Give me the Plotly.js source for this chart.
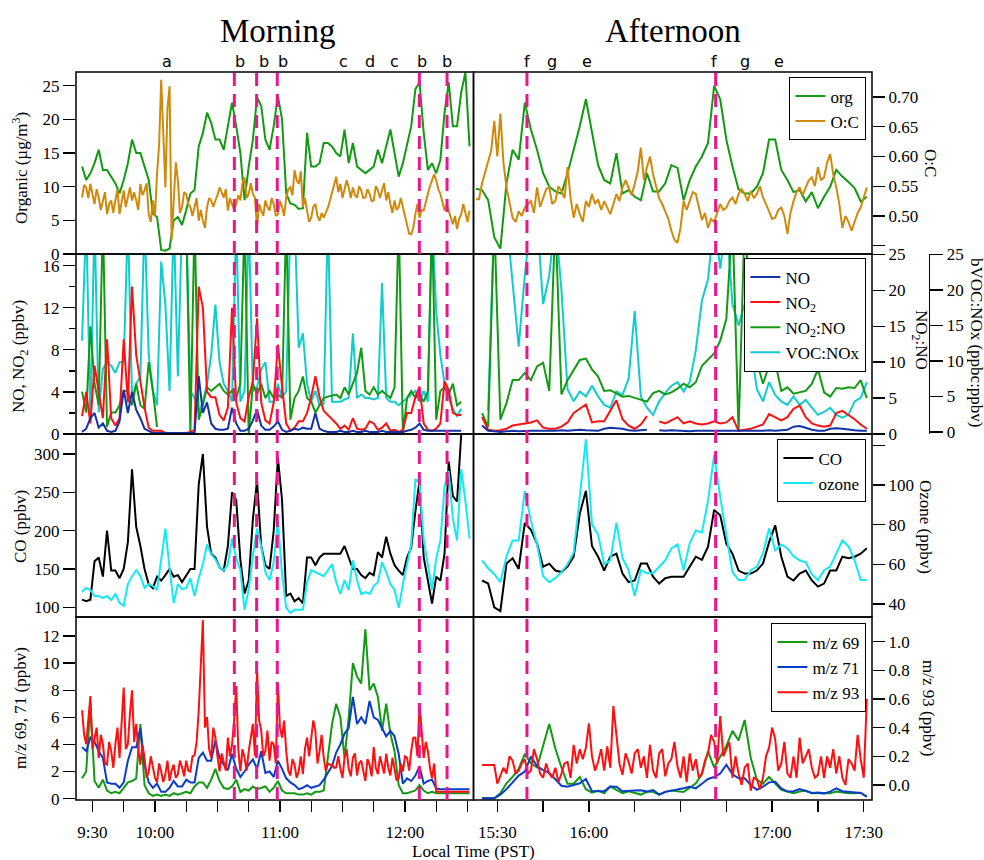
<!DOCTYPE html>
<html><head><meta charset="utf-8">
<script src="https://cdn.plot.ly/plotly-3.0.1.min.js"></script>
<style>html,body{margin:0;padding:0;background:#fff}</style>
</head><body><div id="chart" style="width:984px;height:860px"></div>
<script>
// ---------- DATA (time in minutes after midnight, PST) ----------
const timeAM = [565,567,569,571,573,575,577,579,581,583,585,587,589,591,593,595,597,599,601,603,605,607,609,611,613,615,617,619,621,623,625,627,629,631,633,635,637,639,641,643,645,647,649,651,653,655,657,659,661,663,665,667,669,671,673,675,677,679,681,683,685,687,689,691,693,695,697,699,701,703,705,707,709,711,713,715,717,719,721,723,725,727,729,731,733,735,737,739,741,743,745,747,749,751];
const timePM = [923,925,927,929,931,933,935,937,939,941,943,945,947,949,951,953,955,957,959,961,963,965,967,969,971,973,975,977,979,981,983,985,987,989,991,993,995,997,999,1001,1003,1005,1007,1009,1011,1013,1015,1017,1019,1021,1023,1025,1027,1029,1031,1033,1035,1037,1039,1041,1043,1045,1047,1049,1051];
// one-minute time bases for the noisier series (O:C, m/z 93)
const timeAM1 = [565,566,567,568,569,570,571,572,573,574,575,576,577,578,579,580,581,582,583,584,585,586,587,588,589,590,591,592,593,594,595,596,597,598,599,600,601,602,603,604,605,606,607,608,609,610,611,612,613,614,615,616,617,618,619,620,621,622,623,624,625,626,627,628,629,630,631,632,633,634,635,636,637,638,639,640,641,642,643,644,645,646,647,648,649,650,651,652,653,654,655,656,657,658,659,660,661,662,663,664,665,666,667,668,669,670,671,672,673,674,675,676,677,678,679,680,681,682,683,684,685,686,687,688,689,690,691,692,693,694,695,696,697,698,699,700,701,702,703,704,705,706,707,708,709,710,711,712,713,714,715,716,717,718,719,720,721,722,723,724,725,726,727,728,729,730,731,732,733,734,735,736,737,738,739,740,741,742,743,744,745,746,747,748,749,750,751];
const timePM1 = [923,924,925,926,927,928,929,930,931,932,933,934,935,936,937,938,939,940,941,942,943,944,945,946,947,948,949,950,951,952,953,954,955,956,957,958,959,960,961,962,963,964,965,966,967,968,969,970,971,972,973,974,975,976,977,978,979,980,981,982,983,984,985,986,987,988,989,990,991,992,993,994,995,996,997,998,999,1000,1001,1002,1003,1004,1005,1006,1007,1008,1009,1010,1011,1012,1013,1014,1015,1016,1017,1018,1019,1020,1021,1022,1023,1024,1025,1026,1027,1028,1029,1030,1031,1032,1033,1034,1035,1036,1037,1038,1039,1040,1041,1042,1043,1044,1045,1046,1047,1048,1049,1050,1051];

// Row 1: organic aerosol (ug/m3) and O:C
const orgAM = [13,11,12,13.5,15.5,12.5,12.5,11.5,10.5,9,11,13.5,17,15,15,13,11,6,5.5,0.6,0.5,0.8,5,5.5,4.3,6.5,9,9.5,16,18,21,19.5,17,17,15.5,19,22.5,19,15,8,13,17,23.3,22,17,15.5,19,23.5,20,9,7.5,7.3,6.7,6.8,18,13,13,13.5,16.5,16.5,16,15,14.5,18.5,13.5,16.5,13,12.5,12,12.5,13,15.5,13.5,16,18.5,15,11.5,13.5,16.5,19,24.5,25.5,18,12.5,13.5,12,14,21,25.5,19,19,24,27,16];
const ocAM = [.531,.552,.548,.530,.554,.535,.520,.545,.531,.510,.526,.540,.503,.520,.526,.505,.526,.545,.503,.525,.543,.515,.531,.548,.526,.540,.526,.510,.554,.535,.543,.555,.503,.490,.526,.500,.571,.620,.729,.640,.548,.680,.718,.460,.537,.590,.560,.505,.515,.540,.537,.520,.515,.500,.515,.530,.492,.510,.492,.480,.515,.530,.526,.515,.526,.535,.548,.540,.531,.545,.509,.530,.520,.510,.520,.535,.526,.555,.565,.530,.537,.555,.537,.530,.480,.520,.509,.500,.526,.515,.509,.530,.520,.500,.503,.525,.515,.500,.531,.545,.548,.535,.577,.560,.554,.575,.515,.530,.509,.490,.497,.515,.520,.500,.492,.505,.497,.505,.514,.526,.538,.552,.566,.540,.554,.530,.548,.560,.548,.530,.548,.535,.531,.550,.543,.530,.531,.545,.537,.525,.526,.550,.543,.530,.543,.555,.526,.540,.520,.505,.526,.510,.515,.530,.515,.500,.486,.470,.469,.480,.503,.520,.497,.510,.509,.525,.537,.550,.560,.570,.560,.545,.537,.520,.509,.520,.509,.495,.486,.500,.478,.495,.503,.520,.503,.490,.509];
const orgPM = [9.7,9.5,8,2.5,0.8,10.5,15.5,14,22.5,18.5,15.5,12,10,9.3,9,12,15.5,19,23,18,13.2,11,10.5,15,9,9.5,8.5,8,12,9.3,9.3,10.5,13.2,12.8,8,11,13,14.5,16.5,25,23,17,13,9.6,9,9,10,12,17,17,12.5,11,9.2,9.5,7.8,9.2,6.8,8.5,10,12.5,11.5,10.7,9.8,7.8,8.5];
const ocPM = [.528,.528,.555,.575,.593,.610,.66,.600,.672,.590,.548,.520,.497,.490,.508,.500,.514,.520,.525,.505,.548,.515,.531,.545,.548,.520,.525,.550,.542,.530,.582,.530,.497,.520,.503,.490,.525,.515,.537,.520,.528,.510,.525,.515,.503,.520,.537,.525,.548,.560,.548,.535,.554,.575,.615,.560,.582,.600,.570,.550,.53,.520,.508,.495,.475,.460,.455,.480,.525,.510,.525,.540,.537,.515,.493,.505,.48,.495,.49,.505,.52,.510,.514,.525,.531,.520,.537,.545,.537,.525,.542,.530,.537,.550,.531,.520,.508,.495,.497,.510,.514,.500,.47,.505,.525,.540,.548,.535,.548,.560,.565,.550,.582,.560,.565,.590,.604,.570,.548,.520,.48,.500,.49,.475,.49,.505,.514,.530,.548];

// Row 2: NO, NO2 (ppbv), NO2:NO, bVOC:NOx
const noAM = [0.2,0.5,1.5,2,0.6,1,0.3,0.2,0.3,1.2,4.2,2,4,2.3,1.5,0.5,0.3,0.1,0.1,0.1,0.1,0.1,0.1,0.1,0.1,0.1,0.1,0.1,5.5,2,3,1,0.5,0.4,0.4,0.5,2.5,1,0.3,0.3,0.5,1.3,2.3,0.8,0.4,0.4,0.7,1.2,0.4,0.2,0.3,0.5,0.4,0.6,0.5,0.5,2,0.5,0.3,0.2,0.2,0.2,0.3,0.2,0.2,0.3,0.2,0.2,0.3,0.2,0.2,0.2,0.3,0.2,0.2,0.2,0.2,0.2,0.3,0.4,0.6,1,0.4,0.3,0.3,0.3,0.3,0.3,0.3,0.3,0.3,0.3,null,null];
const no2AM = [1.7,4,1,6.5,4,1.5,9,1.5,0.8,1.5,9,3,14,7.5,5,2.5,0.6,0.3,0.3,0.3,0.1,0.1,0.1,0.1,0.1,0.1,0.2,0.4,14,12,4,3.5,3.5,1.8,1.3,2.5,12,3,1.5,1.2,3.5,5,11,3,1.3,1,3,8.5,4.5,1,0.3,0.6,1.2,1.2,2,3.5,5.5,3.5,2.2,1.8,1.4,1,0.5,0.8,0.4,1.5,0.5,0.4,0.5,1.2,1,0.4,0.6,1,0.3,0.4,0.2,0.4,2,2,3.5,4.5,1,0.4,0.3,0.5,1,5,4.2,2,1.8,1.8,null,null];
const ratioAM = [5.9,3,15,7,4,30,1,3,3,4,6,6,4,7,4,3.5,10,6,1,null,null,6,null,null,null,30,0,30,2,4,6.5,6,6.5,7,6,5.5,6,5,7,30,0,7,5.5,7,5,6,5,5.5,5,30,2,5,6,8,5,4.5,3,4,5,5.2,5.3,5.5,5,6.5,5.5,7,8.5,12,6,5.5,6.5,5.5,6,5.5,5,6.5,30,0,5,6,5,5.5,4.5,6,30,2,6,6.5,5.5,7,4,4.5,null,null];
const vocAM = [13,30,2,30,3,9,10,9.5,8.5,10,10,30,5,7,8,30,11,6,4,24,18,6,30,8,30,30,6,5,3,4.5,7,11,18,10,7,6,4.5,30,4.5,6,30,6,6.5,9,10,4.5,4.5,7,5,6,30,30,12,14,7,4.5,6,4,4.2,30,4.5,4.5,4.5,4.8,5,14,5,5.5,5,5,4.8,5,21,5,4.5,4.5,4,4.5,5,5.5,6,4.5,6,4.5,30,17,11,7,5,3.5,2.5,3.5,null,null];
const noPM = [null,0.8,0.3,0.25,0.2,0.25,0.3,0.25,0.3,0.3,0.3,0.3,0.25,0.3,0.35,0.3,0.35,0.4,0.35,0.3,0.3,0.5,0.6,0.55,0.5,0.35,0.3,0.35,0.4,null,0.35,0.3,0.35,0.3,0.3,0.25,0.3,0.3,0.25,0.3,0.3,0.3,0.3,0.25,0.25,0.3,0.3,0.3,0.35,0.3,0.35,0.4,0.7,0.75,0.6,0.4,0.3,0.3,0.5,0.55,0.5,0.4,0.35,0.3,0.3];
const no2PM = [null,1.6,0.4,0.3,0.35,0.5,0.8,0.9,1.0,1.1,1.3,0.6,0.5,0.5,0.7,1.1,2.0,2.4,2.8,1.1,1.2,1.2,2.2,3.2,1.4,0.8,0.5,0.9,1.7,null,1.2,1.0,1.3,1.6,1.0,1.2,1.0,0.9,1.0,1.2,1.0,1.1,1.6,0.3,0.4,0.5,0.7,0.9,1.9,1.6,1.3,1.6,2.4,2.7,1.6,1.0,0.8,0.7,0.8,2.0,2.2,1.8,1.4,0.9,0.5];
const ratioPM = [null,2.9,1,30,2,4.3,7.5,7.5,8.5,7.5,9.4,9.9,6,30,5.5,7.5,9,10.3,10.5,9,8,6,6.1,5.7,5.2,5.3,5,4.8,4.5,5.7,6,5.5,5.8,6.3,7,6.5,7.2,9.5,10.3,11.2,13,16,30,0.3,30,16,10,7,9.5,10,6,6.5,5.6,5.8,6,7,9,5.8,5.2,6.4,6.3,6.5,6.4,7.5,5];
const vocPM = [null,null,3,30,25,30,21,12,22,30,30,18,22,30,20,6,4.3,5.7,5,6.5,5,3.8,3.4,5.7,5.2,7.5,17,5,3.4,2.4,4.3,5.5,6.5,7,5.7,7,11.5,18.5,21.5,30,23,30,18,15,18,12,6,4.3,7,5.2,4.3,3.8,5,3.8,4.5,3.4,2.4,2.8,3.4,2.4,2,2.4,4.3,4.8,7];

// Row 3: CO (ppbv), ozone (ppbv)
const coAM = [110,108,110,160,165,140,200,148,148,138,150,185,280,205,180,150,130,125,140,135,142,150,140,142,133,142,150,150,260,300,205,170,165,152,148,180,250,240,162,118,135,215,265,180,155,150,200,295,240,115,118,108,112,105,165,165,155,165,170,170,170,170,170,180,165,150,150,142,138,145,142,172,165,192,170,155,148,142,165,178,225,265,165,135,105,140,135,170,290,245,238,325,null,null];
const o3AM = [46.2,48,47,44,44,43,44,42,45,40.5,39,50,54,57,54,48,50,49,47,62,78,58,40.5,50,47.5,48,53,44,53,60,70,65,62.5,58.5,57,60,73,63,57,37,47.5,64,78,69,56,52,61,82,55,38,35.5,37,37,37,51,57,56,55,54,57,60,51,45,52,47,62,52,45,46,45,49,51,61,56,50,47,38,50,60,70,103,101,72,60,47,63,72,99,107,83,72,108,92,73];
const coPM = [null,135,131,100,95,157,164,150,210,201,183,153,157,148,146,153,166,222,252,180,166,148,166,170,144,133,135,157,157,140,131,138,140,140,140,153,166,162,179,227,220,183,170,148,144,144,148,157,185,207,166,140,135,144,148,135,127,131,148,148,166,164,166,170,177];
const o3PM = [null,62,58,55,51,64,72,72,97,82,70,54,51,53,56,60,66,94,123,80,75,60,62,81,63,57,44,57,55.5,55.5,58.8,62,68,70,57,70.6,77,76,92,115,94,74,56,52,52,57,58.8,65.5,78,67,70,68,64,62,61,55,52,57,58.8,65.5,72,69,62,52,52];

// Row 4: m/z 69, 71 (ppbv), m/z 93 (ppbv)
const mz69AM = [1.5,2,7,1.3,0.8,1.4,0.6,0.4,0.5,0.4,0.8,1.2,1.3,1.5,5.5,1,0.4,0.2,0.3,0.2,0.3,0.2,0.4,0.3,0.4,0.5,0.4,0.9,1.2,1.2,0.8,1.4,2.2,1.3,0.8,0.7,0.9,1.4,0.5,0.7,0.6,0.9,0.7,0.8,0.9,0.5,0.8,1.3,0.6,0.4,0.4,0.4,0.3,0.3,0.4,0.3,0.5,0.5,0.6,3,5.5,7,6,3,6,10,9,8.5,12.5,8,8.5,7.5,5,7,4.8,3.5,1,0.4,0.4,0.5,0.6,1,0.6,0.4,0.5,0.4,0.4,0.4,0.4,0.4,0.4,0.4,0.4,0.4];
const mz71AM = [3.8,3.5,4.5,4.2,3.5,3,1.2,1.1,1.1,0.8,1.2,2.8,3.8,3.8,5.2,2.5,1.2,0.8,1.1,0.5,0.5,0.8,1.3,0.9,0.9,1.4,1.2,1.2,3,3.4,2.8,2.8,4.3,3,2.5,2.1,3.3,2.2,1.6,2,2.5,2.9,2.2,3.5,1.9,2,1.6,2.8,2.2,1.5,1.2,1,0.7,0.8,1,0.8,0.9,1,1.4,1.9,2.4,3.4,4,4.8,5.2,7.5,5.5,6,5.5,7.2,6,5.8,5.2,4.6,5,4.6,3.3,1.1,1.5,1.3,1.7,2.4,1.1,1.3,1.4,0.75,0.7,0.7,0.7,0.7,0.7,0.7,0.7,0.7];
const mz93AM = [.521,.35,.284,.45,.62,.25,.331,.40,.189,.35,.284,.15,.142,.30,.236,.12,.284,.40,.189,.45,.68,.25,.284,.50,.66,.30,.426,.25,.142,.28,.189,.05,.094,.20,.113,.05,.018,.15,.094,.02,.075,.17,.028,.10,.142,.05,.075,.17,.123,.06,.170,.10,.094,.20,.208,.30,.521,.80,1.15,.40,.473,.25,.189,.40,.331,.20,.094,.22,.161,.10,.331,.20,.284,.45,.69,.25,.094,.25,.189,.10,.236,.35,.426,.20,.80,.45,.379,.20,.236,.38,.170,.30,.284,.15,.71,.40,.331,.45,.236,.10,.066,.18,.142,.05,.094,.20,.075,.25,.331,.20,.331,.45,.379,.15,.236,.35,.189,.10,.151,.14,.142,.12,.123,.20,.113,.05,.189,.25,.113,.06,.189,.22,.066,.15,.170,.10,.028,.18,.142,.06,.265,.12,.075,.20,.142,.08,.218,.12,.066,.19,.113,.03,.047,.15,.094,.20,.189,.10,.236,.33,.331,.20,.57,.35,.189,.30,.236,.12,.047,.15,-.048,-.048,-.048,-.048,-.048,-.048,-.048,-.048,-.048,-.048,-.048,-.048,-.048,-.048,-.048,-.048,-.048];
const mz69PM = [null,0.02,0.02,0.02,0.4,1.13,1.6,2.2,3.3,2.6,2.3,4,5.5,3.7,2.3,1.1,1.1,1.6,0.7,0.45,0.6,0.4,0.9,0.64,0.4,0.55,0.45,0.3,0.5,0.5,0.3,0.5,0.6,0.55,0.5,0.8,1.13,1.8,3.5,2.3,3.1,3.9,5,4.3,5.8,3,1.4,1.1,1.6,1.1,0.64,0.52,0.4,0.52,0.6,0.4,0.39,0.39,0.39,0.52,0.45,0.4,0.39,0.44,0.15];
const mz71PM = [null,0.02,0.02,0.02,0.3,0.7,1.2,1.7,2,3.1,2.4,2.1,1.9,1.4,0.95,0.88,1.0,1.13,1.45,0.55,0.55,0.55,0.9,0.88,0.55,0.55,0.6,0.62,0.52,0.64,0.3,0.5,0.58,0.64,0.76,0.88,0.76,1.1,1.45,1.6,1.85,2.5,1.8,1.5,1.5,1.0,0.65,0.88,1.2,1.25,0.76,0.52,0.55,0.7,0.55,0.42,0.45,0.39,0.52,0.76,0.55,0.5,0.44,0.42,0.15];
const mz93PM = [null,null,.14,.14,.14,.14,.14,.01,.06,.12,.08,.20,.17,.08,.10,.15,.18,.08,.10,.25,.18,.08,.05,.15,.08,.05,.12,.02,.08,.15,.16,.05,.28,.15,.25,.18,.26,.43,.20,.10,.16,.25,.10,.27,.12,.55,.35,.15,.07,.22,.16,.08,.22,.25,.12,.20,.05,.28,.10,.05,.22,.25,.06,.15,.18,.30,.13,.05,.20,.02,.22,.10,.18,.05,.08,.17,.22,.35,.30,.15,.48,.20,.25,.30,.05,.20,.08,.00,.12,.15,-.04,.05,.04,-.03,.05,.20,.26,.40,.32,.10,.15,.30,.08,.05,.20,.05,.33,.15,.20,.25,.12,.05,.07,.20,.05,.20,.12,.25,.08,.20,.05,.00,.18,.15,.10,.35,.18,.05,.60];

// Event markers
const letterAM = ['a','b','b','b','c','d','c','b','b'];
const letterAMt = [605.9,640.7,652.5,661.4,690.4,703.2,714.9,728.2,740.2];
const letterPM = ['f','g','e','f','g','e'];
const letterPMt = [939.8,947.9,959.4,1001,1011.2,1022.3];
const dashAM = [638.1,648.8,658.7,726.9,740.2];
const dashPM = [939.7,1001.5];

// Tick positions and labels
const tickAM = [570,600,660,720];
const tickAMtext = ['9:30','10:00','11:00','12:00'];
const minorAM = [585,615,630,645,675,690,705,735,750];
const tickPM = [930,960,1020,1050];
const tickPMtext = ['15:30','16:00','17:00','17:30'];
const minorPM = [945,975,990,1005,1035];

// ---------- LAYOUT ----------
const SERIF = 'Liberation Serif, Times New Roman, serif';
const PL=76, PR=940, PT=72, PB=800, W=PR-PL, H=PB-PT;
const px = x => (x-PL)/W, py = y => (PB-y)/H;
const domAM=[0, px(473.5)], domPM=[px(473.5), px(872)];
const rowY=[[py(254),1],[py(434),py(254)],[py(617),py(434)],[0,py(617)]];

const C = {green:'#129a12', orange:'#cf8a0c', navy:'#1232a6', red:'#ff1010', cyan:'#10cccc',
  black:'#000', ozone:'#12eaf5', blue:'#0a3ccc', pink:'#ea168c'};

const tf = {family:SERIF, size:17, color:'#000'};
const mk = (vals, len) => ({tickvals:vals, ticks:'outside', ticklen:len, tickwidth:1.4, tickcolor:'#000'});
function ya(o){ return Object.assign({showgrid:false, zeroline:false, showline:false, ticks:'outside',
  ticklen:12, tickwidth:1.4, tickcolor:'#000', tickfont:tf, tickmode:'array', fixedrange:true}, o); }
function xa(o){ return Object.assign({showgrid:false, zeroline:false, showline:false, ticks:'outside',
  ticklen:11, tickwidth:1.4, tickcolor:'#000', tickmode:'array', tickfont:tf, ticklabelstandoff:6, fixedrange:true}, o); }

const layout = {
  width:984, height:860, margin:{l:PL, r:984-PR, t:PT, b:860-PB},
  paper_bgcolor:'#fff', plot_bgcolor:'rgba(0,0,0,0)', showlegend:true, hovermode:false,
  xaxis: xa({domain:domAM, range:[562.1,752.9], anchor:'y15', tickvals:tickAM, ticktext:tickAMtext, minor:mk(minorAM,11)}),
  xaxis2:xa({domain:domPM, range:[922.2,1052.7], anchor:'y17', tickvals:tickPM, ticktext:tickPMtext, minor:mk(minorPM,11)}),
  // row 1
  yaxis:  ya({domain:rowY[0], range:[0,27.05], anchor:'x', side:'left', tickvals:[0,5,10,15,20,25]}),
  yaxis2: ya({overlaying:'y', anchor:'x', side:'right', range:[0.436,0.742], visible:false}),
  yaxis3: ya({domain:rowY[0], range:[0,27.05], anchor:'x2', visible:false}),
  yaxis4: ya({overlaying:'y3', anchor:'x2', side:'right', range:[0.436,0.742],
    tickvals:[0.50,0.55,0.60,0.65,0.70], ticktext:['0.50','0.55','0.60','0.65','0.70'], minor:mk([0.45],12)}),
  // row 2
  yaxis5: ya({domain:rowY[1], range:[0,25.05], anchor:'x', visible:false}),
  yaxis6: ya({overlaying:'y5', anchor:'x', side:'right', range:[0,25.05], visible:false}),
  yaxis7: ya({overlaying:'y5', anchor:'x', side:'left', range:[0,17.1], tickvals:[0,4,8,12,16], minor:mk([2,6,10,14],6)}),
  yaxis8: ya({domain:rowY[1], range:[-0.3,25.05], anchor:'free', position:px(929), side:'right',
    tickvals:[0,5,10,15,20,25], showline:true, linewidth:1.4, linecolor:'#000', ticklen:13}),
  yaxis9: ya({overlaying:'y8', anchor:'x2', side:'right', range:[0,25.05], tickvals:[0,5,10,15,20,25]}),
  yaxis10:ya({overlaying:'y8', anchor:'x2', side:'left', range:[0,17.1], visible:false}),
  // row 3
  yaxis11:ya({domain:rowY[2], range:[87.4,326], anchor:'x', side:'left', tickvals:[100,150,200,250,300]}),
  yaxis12:ya({overlaying:'y11', anchor:'x', side:'right', range:[33.4,125.7], visible:false}),
  yaxis13:ya({domain:rowY[2], range:[87.4,326], anchor:'x2', visible:false}),
  yaxis14:ya({overlaying:'y13', anchor:'x2', side:'right', range:[33.4,125.7],
    tickvals:[40,60,80,100], ticktext:['40','60','80','100'], minor:mk([120],12)}),
  // row 4
  yaxis15:ya({domain:rowY[3], range:[-0.1,13.4], anchor:'x', side:'left', tickvals:[0,2,4,6,8,10,12]}),
  yaxis16:ya({overlaying:'y15', anchor:'x', side:'right', range:[-0.105,1.172], visible:false}),
  yaxis17:ya({domain:rowY[3], range:[-0.1,13.4], anchor:'x2', visible:false}),
  yaxis18:ya({overlaying:'y17', anchor:'x2', side:'right', range:[-0.105,1.172],
    tickvals:[0,0.2,0.4,0.6,0.8,1.0], ticktext:['0.0','0.2','0.4','0.6','0.8','1.0']}),
  shapes:[], annotations:[]
};

const legBase = {xanchor:'right', yanchor:'top', bordercolor:'#000', borderwidth:1.4, bgcolor:'#fff',
  font:{family:SERIF, size:17, color:'#000'}, itemwidth:30, tracegroupgap:0, traceorder:'normal'};
layout.legend  = Object.assign({x:px(866), y:py(77)}, legBase);
layout.legend2 = Object.assign({x:px(866), y:py(258)}, legBase);
layout.legend3 = Object.assign({x:px(866), y:py(439)}, legBase);
layout.legend4 = Object.assign({x:px(866), y:py(623)}, legBase);

// panel frames
[domAM, domPM].forEach(d => rowY.forEach(r => layout.shapes.push({type:'rect', xref:'paper', yref:'paper',
  x0:d[0], x1:d[1], y0:r[0], y1:r[1], line:{color:'#000', width:1.5}, layer:'above'})));
// dashed event lines
const dl = {color:C.pink, width:3, dash:'13px,8px'};
dashAM.forEach(t => layout.shapes.push({type:'line', xref:'x', yref:'paper', x0:t, x1:t, y0:0, y1:1, line:dl, layer:'above'}));
dashPM.forEach(t => layout.shapes.push({type:'line', xref:'x2', yref:'paper', x0:t, x1:t, y0:0, y1:1, line:dl, layer:'above'}));

// annotations
const A = layout.annotations;
const ann = (text, x, y, o) => A.push(Object.assign({text, x, y, xref:'paper', yref:'paper', showarrow:false,
  xanchor:'center', yanchor:'middle', font:{family:SERIF, size:17, color:'#000'}}, o||{}));
ann('Morning', px(278), py(31), {font:{family:SERIF, size:33, color:'#000'}});
ann('Afternoon', px(673), py(31), {font:{family:SERIF, size:33, color:'#000'}});
letterAM.forEach((l,i) => A.push({text:l, x:letterAMt[i], y:py(61), xref:'x', yref:'paper', showarrow:false,
  xanchor:'center', yanchor:'middle', font:{family:'DejaVu Sans', size:16, color:'#000'}}));
letterPM.forEach((l,i) => A.push({text:l, x:letterPMt[i], y:py(61), xref:'x2', yref:'paper', showarrow:false,
  xanchor:'center', yanchor:'middle', font:{family:'DejaVu Sans', size:16, color:'#000'}}));
ann('Organic (µg/m<sup>3</sup>)', px(20), py(168), {textangle:-90});
ann('NO, NO<sub>2</sub> (ppbv)', px(20), py(357), {textangle:-90});
ann('CO (ppbv)', px(20), py(527), {textangle:-90});
ann('m/z 69, 71 (ppbv)', px(20), py(708), {textangle:-90});
ann('O:C', px(931), py(163), {textangle:90});
ann('NO<sub>2</sub>:NO', px(920), py(340), {textangle:90});
ann('bVOC:NOx (ppbc:ppbv)', px(977), py(343), {textangle:90});
ann('Ozone (ppbv)', px(926), py(527), {textangle:90});
ann('m/z 93 (ppbv)', px(929), py(708), {textangle:90});
ann('Local Time (PST)', px(473), py(851));

// ---------- TRACES ----------
const L = (x, y, xa_, ya_, color, o) => Object.assign({type:'scatter', mode:'lines', x, y, xaxis:xa_, yaxis:ya_,
  line:{color, width:2}, showlegend:false, hoverinfo:'skip'}, o||{});
const data = [
  L(timeAM, orgAM, 'x','y', C.green),
  L(timeAM1, ocAM, 'x','y2', C.orange),
  L(timePM, orgPM, 'x2','y3', C.green, {name:'org', showlegend:true, legend:'legend', legendrank:1}),
  L(timePM1, ocPM, 'x2','y4', C.orange, {name:'O:C', showlegend:true, legend:'legend', legendrank:2}),

  L(timeAM, vocAM, 'x','y5', C.cyan),
  L(timeAM, ratioAM, 'x','y6', C.green),
  L(timeAM, no2AM, 'x','y7', C.red),
  L(timeAM, noAM, 'x','y7', C.navy),
  L(timePM, vocPM, 'x2','y8', C.cyan, {name:'VOC:NOx', showlegend:true, legend:'legend2', legendrank:4}),
  L(timePM, ratioPM, 'x2','y9', C.green, {name:'NO<sub>2</sub>:NO', showlegend:true, legend:'legend2', legendrank:3}),
  L(timePM, no2PM, 'x2','y10', C.red, {name:'NO<sub>2</sub>', showlegend:true, legend:'legend2', legendrank:2}),
  L(timePM, noPM, 'x2','y10', C.navy, {name:'NO', showlegend:true, legend:'legend2', legendrank:1}),

  L(timeAM, coAM, 'x','y11', C.black),
  L(timeAM, o3AM, 'x','y12', C.ozone),
  L(timePM, coPM, 'x2','y13', C.black, {name:'CO', showlegend:true, legend:'legend3', legendrank:1}),
  L(timePM, o3PM, 'x2','y14', C.ozone, {name:'ozone', showlegend:true, legend:'legend3', legendrank:2}),

  L(timeAM, mz69AM, 'x','y15', C.green),
  L(timeAM, mz71AM, 'x','y15', C.blue),
  L(timeAM1, mz93AM, 'x','y16', C.red),
  L(timePM, mz69PM, 'x2','y17', C.green, {name:'m/z 69', showlegend:true, legend:'legend4', legendrank:1}),
  L(timePM, mz71PM, 'x2','y17', C.blue, {name:'m/z 71', showlegend:true, legend:'legend4', legendrank:2}),
  L(timePM1, mz93PM, 'x2','y18', C.red, {name:'m/z 93', showlegend:true, legend:'legend4', legendrank:3})
];

Plotly.newPlot('chart', data, layout, {staticPlot:true, displayModeBar:false});
</script></body></html>
